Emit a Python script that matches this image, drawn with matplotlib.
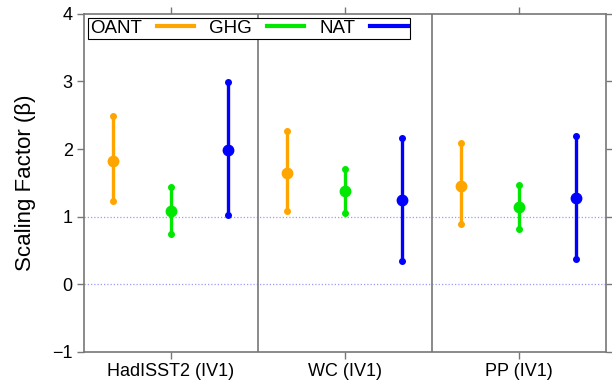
import matplotlib
matplotlib.use("Agg")
import matplotlib.pyplot as plt
from matplotlib.lines import Line2D

plt.rcParams['font.family'] = ['Liberation Sans', 'DejaVu Sans']

datasets = ['HadISST2 (IV1)', 'WC (IV1)', 'PP (IV1)']
forcings = ['OANT', 'GHG', 'NAT']
colors = ['#FFA500', '#00E800', '#0000FF']

# best estimate and 5-95% range, one list per forcing (per dataset)
oant_best = [1.82, 1.65, 1.46]
oant_low = [1.23, 1.08, 0.89]
oant_high = [2.49, 2.26, 2.09]

ghg_best = [1.08, 1.38, 1.14]
ghg_low = [0.75, 1.05, 0.82]
ghg_high = [1.44, 1.71, 1.47]

nat_best = [1.98, 1.25, 1.28]
nat_low = [1.03, 0.34, 0.37]
nat_high = [2.99, 2.17, 2.20]

best = [oant_best, ghg_best, nat_best]
low = [oant_low, ghg_low, nat_low]
high = [oant_high, ghg_high, nat_high]
offsets = [-0.33, 0.0, 0.33]

spine_col = '#777777'

fig = plt.figure(figsize=(6.12, 3.85), dpi=100)
ax = fig.add_axes([0.137, 0.086, 0.853, 0.878])

for v in [0, 1]:
    ax.axhline(v, color='#9a9aff', lw=0.9, ls=(0, (1, 1.6)), zorder=1)
for xv in [1.5, 2.5]:
    ax.axvline(xv, color=spine_col, lw=1.2, zorder=1)

for k in range(3):
    xs = [i + 1 + offsets[k] for i in range(len(datasets))]
    b, lo, hi = best[k], low[k], high[k]
    yerr = [[b[i] - lo[i] for i in range(3)], [hi[i] - b[i] for i in range(3)]]
    ax.errorbar(xs, b, yerr=yerr, fmt='o', color=colors[k], ms=7.5,
                elinewidth=2.4, capsize=0, zorder=3)
    ax.plot(xs, lo, 'o', color=colors[k], ms=4, ls='none', zorder=3)
    ax.plot(xs, hi, 'o', color=colors[k], ms=4, ls='none', zorder=3)

ax.set_xlim(0.5, 3.5)
ax.set_ylim(-1, 4)
ax.set_xticks([1, 2, 3])
ax.set_xticklabels(datasets)
ax.set_yticks([-1, 0, 1, 2, 3, 4])
ax.set_yticklabels(['\u22121', '0', '1', '2', '3', '4'])
ax.tick_params(direction='out', length=5, width=1, color=spine_col,
               labelsize=13, top=True, right=True, pad=3)
for s in ax.spines.values():
    s.set_color(spine_col)
    s.set_linewidth(1.2)
ax.set_ylabel('Scaling Factor (\u03b2)', fontsize=16, labelpad=12)

handles = [Line2D([], [], color=c, lw=3) for c in colors]
leg = ax.legend(handles, forcings, loc='upper left', ncol=3, markerfirst=False,
                fontsize=13.5, frameon=True, fancybox=False, edgecolor='black',
                framealpha=1, borderpad=0.12, handlelength=2.0,
                handletextpad=0.8, columnspacing=0.8, borderaxespad=0.2)
leg.get_frame().set_linewidth(0.8)

fig.savefig('out.png', dpi=100)
